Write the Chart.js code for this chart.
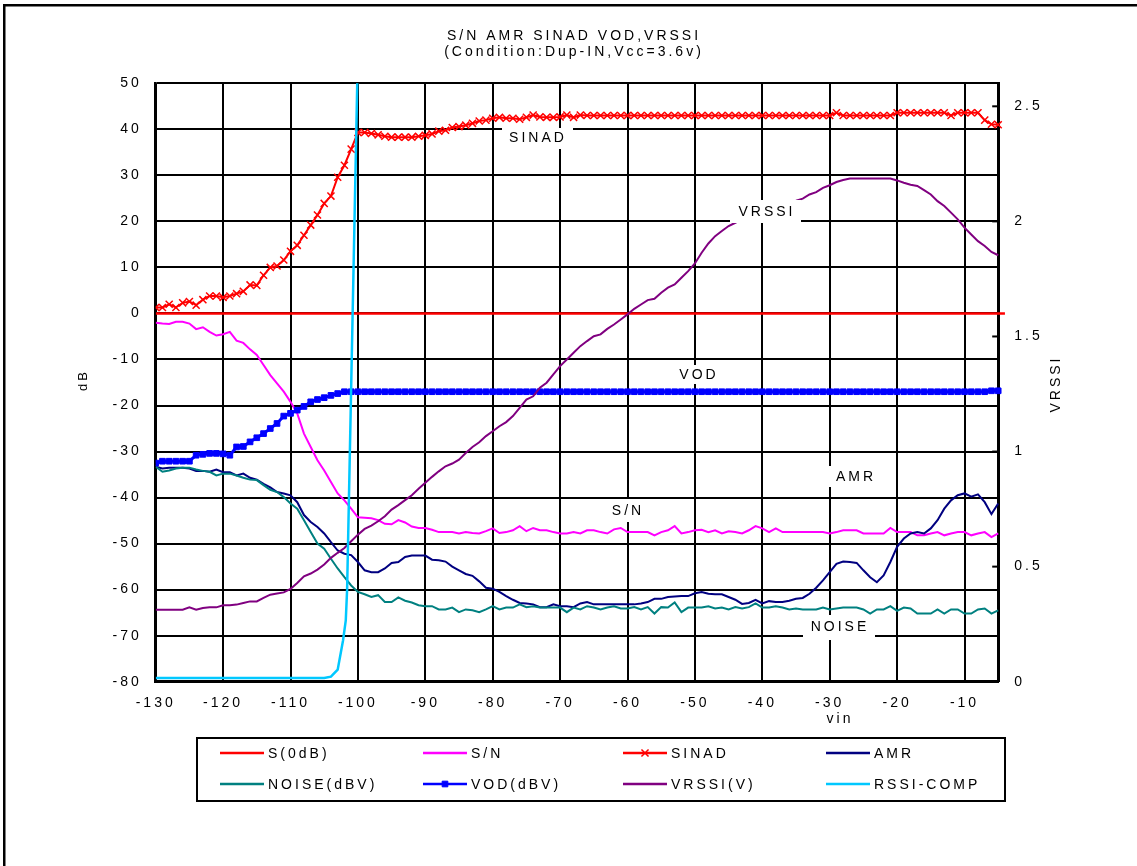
<!DOCTYPE html>
<html>
<head>
<meta charset="utf-8">
<title>S/N AMR SINAD VOD,VRSSI</title>
<script src="https://cdn.jsdelivr.net/npm/chart.js@4/dist/chart.umd.min.js"></script>
<style>
  body { margin: 0; background: #fff; }
  #wrap { width: 1137px; height: 866px; position: relative; }
</style>
</head>
<body>
<div id="wrap"><canvas id="chart"></canvas></div>
<script>
// input level (x axis), one reading per dB
const vin = [
  -130, -129, -128, -127, -126, -125, -124, -123, -122, -121,
  -120, -119, -118, -117, -116, -115, -114, -113, -112, -111,
  -110, -109, -108, -107, -106, -105, -104, -103, -102, -101,
  -100, -99, -98, -97, -96, -95, -94, -93, -92, -91,
  -90, -89, -88, -87, -86, -85, -84, -83, -82, -81,
  -80, -79, -78, -77, -76, -75, -74, -73, -72, -71,
  -70, -69, -68, -67, -66, -65, -64, -63, -62, -61,
  -60, -59, -58, -57, -56, -55, -54, -53, -52, -51,
  -50, -49, -48, -47, -46, -45, -44, -43, -42, -41,
  -40, -39, -38, -37, -36, -35, -34, -33, -32, -31,
  -30, -29, -28, -27, -26, -25, -24, -23, -22, -21,
  -20, -19, -18, -17, -16, -15, -14, -13, -12, -11,
  -10, -9, -8, -7, -6, -5, -4
];

const sinad = [
  1.3, 1.3, 2.0, 1.3, 2.3, 2.6, 1.8, 3.0, 3.8, 3.8,
  3.5, 3.8, 4.3, 4.8, 6.2, 6.1, 8.3, 10.0, 10.3, 11.6,
  13.5, 14.8, 17.0, 19.2, 21.4, 23.9, 25.5, 29.6, 32.2, 35.7,
  39.3, 39.3, 39.1, 38.8, 38.5, 38.3, 38.3, 38.3, 38.3, 38.5,
  38.7, 39.0, 39.6, 39.8, 40.4, 40.6, 40.9, 41.3, 41.8, 42.0,
  42.4, 42.6, 42.4, 42.4, 42.2, 42.6, 43.1, 42.7, 42.6, 42.6,
  42.7, 43.1, 42.6, 43.1, 43.0, 43.0, 43.0, 43.0, 43.0, 43.0,
  43.0, 43.0, 43.0, 43.0, 43.0, 43.0, 43.0, 43.0, 43.0, 43.0,
  43.0, 43.0, 43.0, 43.0, 43.0, 43.0, 43.0, 43.0, 43.0, 43.0,
  43.0, 43.0, 43.0, 43.0, 43.0, 43.0, 43.0, 43.0, 43.0, 43.0,
  43.0, 43.6, 43.0, 43.0, 43.0, 43.0, 43.0, 43.0, 43.0, 43.0,
  43.6, 43.6, 43.6, 43.6, 43.6, 43.6, 43.6, 43.6, 43.0, 43.6,
  43.6, 43.6, 43.6, 42.0, 41.1, 41.0, 40.2
];

const sn = [
  -2.0, -2.2, -2.3, -1.8, -1.8, -2.2, -3.4, -3.0, -4.0, -4.8,
  -4.5, -4.0, -5.9, -6.4, -7.8, -9.0, -11.2, -13.4, -15.2, -17.0,
  -19.2, -21.7, -26.1, -29.0, -31.9, -34.1, -36.6, -39.1, -40.6, -42.4,
  -44.3, -44.4, -44.5, -44.9, -45.7, -45.8, -44.9, -45.4, -46.3, -46.6,
  -46.6, -47.0, -47.5, -47.5, -47.5, -47.8, -47.5, -47.7, -47.8, -47.3,
  -46.7, -47.7, -47.5, -47.1, -46.2, -47.3, -46.6, -47.1, -47.1, -47.5,
  -47.8, -47.8, -47.5, -47.8, -47.1, -47.1, -47.5, -47.8, -46.9, -46.6,
  -47.5, -47.5, -47.5, -47.5, -48.2, -47.5, -47.1, -46.2, -47.8, -47.5,
  -47.1, -47.0, -47.5, -47.1, -47.8, -47.3, -47.5, -47.8, -47.1, -46.2,
  -46.7, -47.5, -46.7, -47.5, -47.5, -47.5, -47.5, -47.5, -47.5, -47.5,
  -47.8, -47.5, -47.1, -47.1, -47.1, -47.8, -47.8, -47.8, -47.8, -46.6,
  -47.5, -47.5, -47.5, -48.2, -48.2, -47.8, -47.5, -48.2, -47.8, -47.5,
  -47.5, -48.2, -47.8, -47.5, -48.6, -47.8, -47.8
];

const amr = [
  -33.3, -33.7, -33.5, -33.5, -33.5, -33.7, -34.2, -34.2, -34.4, -33.9,
  -34.5, -34.5, -35.2, -34.8, -35.7, -36.1, -37.0, -37.8, -38.8, -39.1,
  -39.5, -41.0, -43.8, -45.3, -46.4, -47.8, -49.7, -51.5, -52.2, -52.5,
  -54.0, -55.8, -56.2, -56.2, -55.4, -54.2, -54.0, -52.9, -52.6, -52.6,
  -52.6, -53.5, -53.6, -53.9, -55.0, -55.8, -56.6, -57.0, -58.2, -59.6,
  -59.8, -60.5, -61.4, -62.2, -62.9, -63.0, -63.2, -63.8, -63.8, -63.2,
  -63.6, -63.6, -63.8, -63.0, -62.7, -63.2, -63.2, -63.2, -63.2, -63.2,
  -63.2, -63.2, -63.0, -62.7, -62.0, -62.0, -61.6, -61.5, -61.4, -61.4,
  -60.8, -60.5, -60.9, -61.0, -61.0, -61.6, -62.2, -63.1, -62.9, -62.2,
  -63.0, -62.5, -62.7, -62.7, -62.4, -62.0, -61.8, -60.9, -59.6, -58.0,
  -56.2, -54.4, -53.9, -54.0, -54.2, -55.8, -57.3, -58.4, -56.9, -54.0,
  -50.7, -48.9, -47.8, -47.5, -47.8, -46.7, -44.9, -42.4, -40.6, -39.5,
  -39.1, -39.8, -39.3, -41.0, -43.6, -41.3, -40.4
];

const noise = [
  -33.3, -34.4, -34.1, -33.7, -33.5, -33.5, -33.9, -34.2, -34.4, -35.2,
  -34.8, -34.8, -35.2, -35.7, -36.1, -36.2, -37.3, -38.3, -38.8, -39.9,
  -41.3, -42.4, -44.9, -47.5, -50.0, -51.1, -53.3, -55.4, -57.3, -59.1,
  -60.5, -61.0, -61.6, -61.2, -62.7, -62.7, -61.7, -62.4, -62.8, -63.4,
  -63.6, -63.6, -64.3, -64.3, -63.9, -64.9, -64.3, -64.5, -64.9, -64.3,
  -63.6, -64.3, -63.9, -63.9, -63.2, -63.8, -63.6, -63.9, -63.9, -63.9,
  -63.9, -64.9, -63.9, -64.3, -63.6, -63.9, -64.3, -63.9, -63.6, -64.1,
  -64.1, -63.8, -64.3, -63.8, -65.2, -63.8, -63.9, -62.8, -64.9, -63.9,
  -63.9, -63.9, -63.6, -64.1, -63.9, -64.3, -63.8, -64.1, -63.8, -63.0,
  -63.9, -63.9, -63.6, -63.9, -64.3, -64.1, -64.3, -64.3, -64.3, -63.9,
  -64.3, -64.1, -63.9, -63.9, -63.9, -64.3, -65.2, -64.3, -64.3, -63.6,
  -64.6, -63.9, -64.1, -65.2, -65.2, -65.2, -64.3, -65.2, -64.3, -64.3,
  -65.2, -65.2, -64.3, -64.1, -65.2, -64.5, -64.3
];

const vod = [
  -32.5, -32.1, -32.1, -32.1, -32.1, -32.1, -30.8, -30.6, -30.4, -30.4,
  -30.5, -30.8, -29.0, -28.9, -27.9, -27.0, -26.1, -25.0, -23.9, -22.3,
  -21.7, -21.0, -20.2, -19.2, -18.7, -18.3, -17.8, -17.4, -17.0, -17.0,
  -17.0, -17.0, -17.0, -17.0, -17.0, -17.0, -17.0, -17.0, -17.0, -17.0,
  -17.0, -17.0, -17.0, -17.0, -17.0, -17.0, -17.0, -17.0, -17.0, -17.0,
  -17.0, -17.0, -17.0, -17.0, -17.0, -17.0, -17.0, -17.0, -17.0, -17.0,
  -17.0, -17.0, -17.0, -17.0, -17.0, -17.0, -17.0, -17.0, -17.0, -17.0,
  -17.0, -17.0, -17.0, -17.0, -17.0, -17.0, -17.0, -17.0, -17.0, -17.0,
  -17.0, -17.0, -17.0, -17.0, -17.0, -17.0, -17.0, -17.0, -17.0, -17.0,
  -17.0, -17.0, -17.0, -17.0, -17.0, -17.0, -17.0, -17.0, -17.0, -17.0,
  -17.0, -17.0, -17.0, -17.0, -17.0, -17.0, -17.0, -17.0, -17.0, -17.0,
  -17.0, -17.0, -17.0, -17.0, -17.0, -17.0, -17.0, -17.0, -17.0, -17.0,
  -17.0, -17.0, -17.0, -17.0, -16.8, -16.8, -16.8
];

// VRSSI in volts, right axis
const vrssi = [
  0.313, 0.313, 0.313, 0.313, 0.313, 0.323, 0.313, 0.320, 0.323, 0.323,
  0.332, 0.332, 0.335, 0.342, 0.349, 0.349, 0.364, 0.378, 0.383, 0.388,
  0.403, 0.429, 0.458, 0.470, 0.487, 0.509, 0.538, 0.560, 0.581, 0.610,
  0.639, 0.664, 0.678, 0.697, 0.719, 0.748, 0.767, 0.789, 0.810, 0.838,
  0.864, 0.890, 0.914, 0.936, 0.948, 0.965, 0.994, 1.020, 1.040, 1.067,
  1.088, 1.110, 1.128, 1.154, 1.190, 1.226, 1.240, 1.277, 1.299, 1.335,
  1.371, 1.400, 1.429, 1.458, 1.480, 1.501, 1.509, 1.533, 1.552, 1.574,
  1.596, 1.620, 1.639, 1.658, 1.664, 1.690, 1.712, 1.726, 1.755, 1.784,
  1.817, 1.864, 1.904, 1.936, 1.958, 1.980, 1.994, 2.010, 2.020, 2.032,
  2.044, 2.055, 2.065, 2.075, 2.083, 2.090, 2.099, 2.117, 2.127, 2.146,
  2.157, 2.171, 2.180, 2.186, 2.186, 2.186, 2.186, 2.186, 2.186, 2.186,
  2.178, 2.168, 2.159, 2.154, 2.136, 2.117, 2.088, 2.067, 2.038, 2.009,
  1.973, 1.943, 1.914, 1.893, 1.867, 1.853, 1.847
];

// S(0dB) reference line
const s0Vin = [-130, -4];
const s0 = [0, 0];

// RSSI-COMP: flat then a very steep rise near -101 dB
const rssiVin = [-130, -105, -104, -103, -102.2, -101.8, -101.6, -100];
const rssiComp = [-79.2, -79.2, -78.9, -77.4, -71, -66.7, -60, 57];

// tick labels
const xTicks = [-130, -120, -110, -100, -90, -80, -70, -60, -50, -40, -30, -20, -10];
const dbTicks = [50, 40, 30, 20, 10, 0, -10, -20, -30, -40, -50, -60, -70, -80];
const vTicks = [0, 0.5, 1, 1.5, 2, 2.5];

const FONT = "'Liberation Sans', Arial, Helvetica, sans-serif";
const SPACING = '3px';

// where the plot area sits on the 1137x866 page
const AREA = { left: 155.7, right: 998.2, top: 83.3, bottom: 681.7 };

function toPoints(xs, ys) {
    return xs.map((x, i) => ({ x: x, y: ys[i] }));
}

// text labels sitting on white boxes inside the plot
const tags = [
    { text: 'SINAD', cx: 538, cy: 138, box: [502, 128, 71, 21] },
    { text: 'VRSSI', cx: 767, cy: 212, box: [730, 200, 71, 23] },
    { text: 'VOD', cx: 699, cy: 375, box: [673, 365, 50, 19] },
    { text: 'S/N', cx: 628, cy: 511, box: [604, 499, 46, 23] },
    { text: 'AMR', cx: 856, cy: 477, box: [826, 466, 56, 21] },
    { text: 'NOISE', cx: 840, cy: 627, box: [803, 615, 72, 25] }
];

function drawText(ctx, text, x, y, align, size, rotate) {
    ctx.save();
    ctx.font = size + 'px ' + FONT;
    ctx.letterSpacing = SPACING;
    ctx.fillStyle = '#000';
    ctx.textAlign = align;
    ctx.textBaseline = 'middle';
    ctx.translate(x, y);
    if (rotate) ctx.rotate(-Math.PI / 2);
    ctx.fillText(text, 0, 0);
    ctx.restore();
}

// draws a short sample of a dataset's line (and marker) for the legend
function drawLegendSample(ctx, ds, x, y, len) {
    ctx.save();
    ctx.strokeStyle = ds.borderColor;
    ctx.lineWidth = 2.5;
    ctx.beginPath();
    ctx.moveTo(x, y);
    ctx.lineTo(x + len, y);
    ctx.stroke();
    if (ds.pointRadius > 0) {
        ctx.fillStyle = ds.pointBackgroundColor;
        ctx.strokeStyle = ds.pointBorderColor;
        ctx.lineWidth = ds.pointBorderWidth;
        Chart.helpers.drawPoint(ctx, {
            pointStyle: ds.pointStyle,
            radius: ds.pointRadius,
            borderWidth: ds.pointBorderWidth
        }, x + len / 2, y);
    }
    ctx.restore();
}

const decorPlugin = {
    id: 'decor',
    beforeDraw(chart) {
        const ctx = chart.ctx;
        ctx.save();
        ctx.fillStyle = '#fff';
        ctx.fillRect(0, 0, chart.width, chart.height);
        // frame lines on top and left of the page
        ctx.fillStyle = '#000';
        ctx.fillRect(3, 4, chart.width - 3, 2.5);
        ctx.fillRect(3, 4, 2.5, chart.height - 4);
        ctx.restore();
        // spaced-out lettering like the original sheet, also used by the tick labels
        ctx.letterSpacing = SPACING;
    },
    afterDatasetsDraw(chart) {
        const ctx = chart.ctx;
        tags.forEach(t => {
            ctx.save();
            ctx.fillStyle = '#fff';
            ctx.fillRect(t.box[0], t.box[1], t.box[2], t.box[3]);
            ctx.restore();
            drawText(ctx, t.text, t.cx, t.cy, 'center', 14, false);
        });
    },
    afterDraw(chart) {
        const ctx = chart.ctx;
        const area = chart.chartArea;
        const y1 = chart.scales.y1;

        // inner tick marks on the right axis
        ctx.save();
        ctx.strokeStyle = '#000';
        ctx.lineWidth = 2;
        vTicks.forEach(v => {
            const py = y1.getPixelForValue(v);
            ctx.beginPath();
            ctx.moveTo(area.right - 6, py);
            ctx.lineTo(area.right, py);
            ctx.stroke();
        });
        ctx.restore();

        // titles
        drawText(ctx, 'S/N AMR SINAD VOD,VRSSI', 574, 36, 'center', 14, false);
        drawText(ctx, '(Condition:Dup-IN,Vcc=3.6v)', 574, 52, 'center', 14, false);
        drawText(ctx, 'dB', 83, 380, 'center', 13, true);
        drawText(ctx, 'VRSSI', 1056, 384, 'center', 14, true);
        drawText(ctx, 'vin', 840, 719, 'center', 14, false);

        // legend box, 4 columns x 2 rows
        ctx.save();
        ctx.strokeStyle = '#000';
        ctx.lineWidth = 2;
        ctx.strokeRect(197, 738, 808, 63);
        ctx.restore();
        const colX = [220, 423, 623, 826];
        const rowY = [753, 784];
        chart.data.datasets.forEach((ds, i) => {
            const x = colX[i % 4];
            const y = rowY[Math.floor(i / 4)];
            drawLegendSample(ctx, ds, x, y, 44);
            drawText(ctx, ds.label, x + 48, y + 1, 'left', 14, false);
        });
    }
};

function buildChart() {
    Chart.defaults.font.family = FONT;
    Chart.defaults.font.size = 14;
    Chart.defaults.color = '#000';

    const clip = { left: 0, top: 0, right: 8, bottom: 0 };
    const ctx = document.getElementById('chart').getContext('2d');

    new Chart(ctx, {
        type: 'line',
        data: {
            datasets: [
                { label: 'S(0dB)', data: toPoints(s0Vin, s0), borderColor: '#FF0000', borderWidth: 2.5, pointRadius: 0, yAxisID: 'y', order: 8 },
                { label: 'S/N', data: toPoints(vin, sn), borderColor: '#FF00FF', borderWidth: 2, pointRadius: 0, yAxisID: 'y', order: 7 },
                { label: 'SINAD', data: toPoints(vin, sinad), borderColor: '#FF0000', borderWidth: 2,
                  pointStyle: 'crossRot', pointRadius: 5, pointBorderWidth: 1.5,
                  pointBorderColor: '#FF0000', pointBackgroundColor: '#FF0000', yAxisID: 'y', order: 6 },
                { label: 'AMR', data: toPoints(vin, amr), borderColor: '#000080', borderWidth: 2, pointRadius: 0, yAxisID: 'y', order: 5 },
                { label: 'NOISE(dBV)', data: toPoints(vin, noise), borderColor: '#008080', borderWidth: 2, pointRadius: 0, yAxisID: 'y', order: 4 },
                { label: 'VOD(dBV)', data: toPoints(vin, vod), borderColor: '#0000FF', borderWidth: 3,
                  pointStyle: 'rect', pointRadius: 4, pointBorderWidth: 1,
                  pointBorderColor: '#0000FF', pointBackgroundColor: '#0000FF', yAxisID: 'y', order: 3 },
                { label: 'VRSSI(V)', data: toPoints(vin, vrssi), borderColor: '#800080', borderWidth: 2, pointRadius: 0, yAxisID: 'y1', order: 2 },
                { label: 'RSSI-COMP', data: toPoints(rssiVin, rssiComp), borderColor: '#00C8FF', borderWidth: 2.5, pointRadius: 0, yAxisID: 'y', order: 1 }
            ].map(ds => Object.assign({ fill: false, tension: 0, clip: clip }, ds))
        },
        options: {
            responsive: true,
            maintainAspectRatio: false,
            animation: false,
            events: [],
            layout: { padding: { top: AREA.top, left: 0, right: 0, bottom: 0 } },
            plugins: { legend: { display: false }, tooltip: { enabled: false }, title: { display: false } },
            scales: {
                x: {
                    type: 'linear',
                    min: -130,
                    max: -5,
                    afterBuildTicks: s => { s.ticks = xTicks.map(v => ({ value: v })); },
                    afterFit: s => { s.height = 866 - AREA.bottom; },
                    grid: { color: '#000', lineWidth: 2, drawTicks: false },
                    border: { color: '#000', width: 3 },
                    ticks: { padding: 13, autoSkip: false, maxRotation: 0, callback: v => String(v) }
                },
                y: {
                    position: 'left',
                    min: -80,
                    max: 50,
                    afterBuildTicks: s => { s.ticks = dbTicks.map(v => ({ value: v })); },
                    afterFit: s => { s.width = AREA.left; },
                    grid: { color: '#000', lineWidth: 2, drawTicks: false },
                    border: { color: '#000', width: 2.5 },
                    ticks: { padding: 14, callback: v => String(v) }
                },
                y1: {
                    position: 'right',
                    min: 0,
                    max: 2.6,
                    afterBuildTicks: s => { s.ticks = vTicks.map(v => ({ value: v })); },
                    afterFit: s => { s.width = 1137 - AREA.right; },
                    grid: { drawOnChartArea: false, drawTicks: false },
                    border: { color: '#000', width: 3 },
                    ticks: { padding: 16, callback: v => String(v) }
                }
            }
        },
        plugins: [decorPlugin]
    });
}

buildChart();
</script>
</body>
</html>
